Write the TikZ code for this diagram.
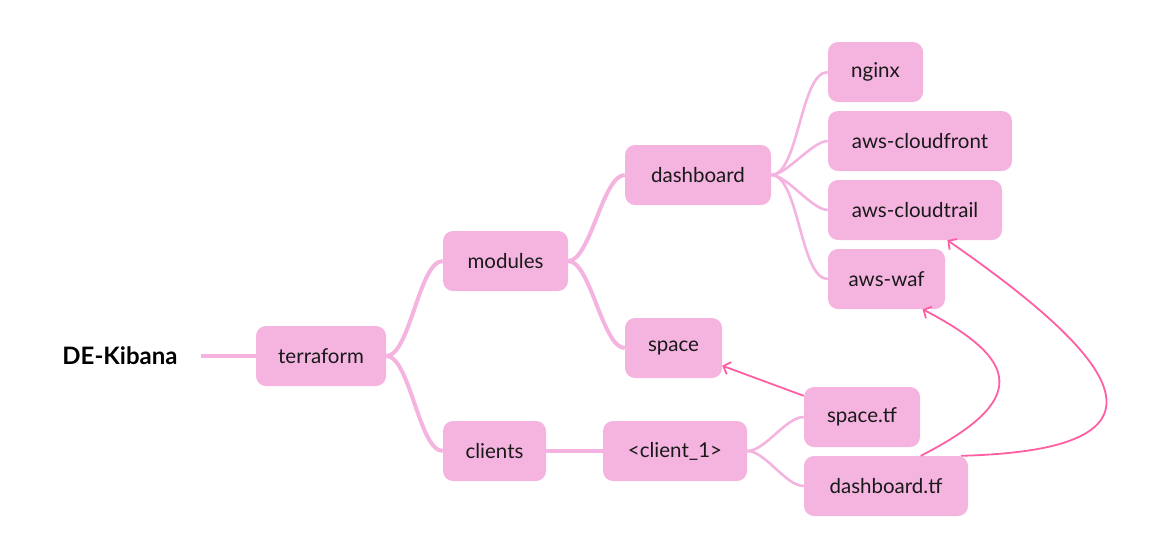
\documentclass[tikz,border=0pt]{standalone}
\usepackage{fontspec}
\setmainfont{Lato}
\usetikzlibrary{arrows.meta}
\definecolor{boxpink}{HTML}{F5B4E0}
\definecolor{linkpink}{HTML}{FF5FA2}

\begin{document}
\begin{tikzpicture}[x=1pt,y=-1pt,
    box/.style={fill=boxpink,rounded corners=10pt,minimum height=60pt,inner xsep=0pt,
      font=\fontsize{20.5}{22}\selectfont,text=black!90},
    branch/.style={draw=boxpink,line width=4pt},
    twig/.style={draw=boxpink,line width=2.6pt},
    ref/.style={draw=linkpink,line width=1.8pt,-{Straight Barb[length=6pt,width=13pt]}}]
    \useasboundingbox (0,0) rectangle (1159,558);
    \node[font=\bfseries\fontsize{24}{26}\selectfont,inner xsep=23pt] (root) at (120,356) {DE-Kibana};
    \node[box,minimum width=130pt] (terraform) at (321,356) {terraform};
    \node[box,minimum width=125pt] (modules) at (505.5,261) {modules};
    \node[box,minimum width=103pt] (clients) at (494.5,451) {clients};
    \node[box,minimum width=146pt] (dashboard) at (698,175) {dashboard};
    \node[box,minimum width=97pt] (space) at (673.5,348) {space};
    \node[box,minimum width=144pt] (client) at (675,451) {<client\_1>};
    \node[box,minimum width=95pt] (nginx) at (875.5,72) {nginx};
    \node[box,minimum width=184pt] (cloudfront) at (920,141) {aws-cloudfront};
    \node[box,minimum width=174pt] (cloudtrail) at (915,210) {aws-cloudtrail};
    \node[box,minimum width=117pt] (waf) at (886.5,279) {aws-waf};
    \node[box,minimum width=116pt] (spacetf) at (862,417) {space.tf};
    \node[box,minimum width=164pt] (dashboardtf) at (886,486) {dashboard.tf};

    \draw[branch] (root) -- (terraform);
    \draw[branch] (terraform.east) to[out=0,in=180,looseness=0.55] (modules.west);
    \draw[branch] (terraform.east) to[out=0,in=180,looseness=0.55] (clients.west);
    \draw[branch] (modules.east) to[out=0,in=180,looseness=0.55] (dashboard.west);
    \draw[branch] (modules.east) to[out=0,in=180,looseness=0.55] (space.west);
    \draw[branch] (clients) -- (client);
    \foreach \leaf in {nginx,cloudfront,cloudtrail,waf}
        \draw[twig] (dashboard.east) to[out=0,in=180,looseness=0.6] (\leaf.west);
    \foreach \leaf in {spacetf,dashboardtf}
        \draw[twig] (client.east) to[out=0,in=180,looseness=0.7] (\leaf.west);

    \draw[ref] (spacetf.160) -- (space.-20);
    \draw[ref] (dashboardtf.41) .. controls (1030,400) and (1020,360) .. (waf.-40);
    \draw[ref] (dashboardtf.22) .. controls (1190,450) and (1120,360) .. (cloudtrail.-43);
\end{tikzpicture}
\end{document}
